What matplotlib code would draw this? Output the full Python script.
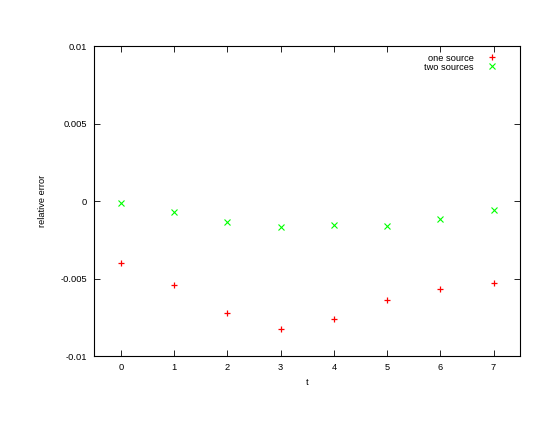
import numpy as np
import matplotlib
matplotlib.use("Agg")
import matplotlib.pyplot as plt

plt.rcParams['font.family'] = ['Liberation Sans', 'DejaVu Sans']

t = [0, 1, 2, 3, 4, 5, 6, 7]
one_source = [-0.00401, -0.00539, -0.00720, -0.00824, -0.00759, -0.00636, -0.00566, -0.00531]
two_sources = [-0.00013, -0.00073, -0.00136, -0.00164, -0.00155, -0.00162, -0.00116, -0.00058]

fig = plt.figure(figsize=(5.54, 4.28), dpi=100)
ax = fig.add_axes([0.170, 0.168, 0.769, 0.724])

ax.plot(t, one_source, linestyle='none', marker='+', color='#ff0000',
        markersize=5, markeredgewidth=0.9, label='one source')
ax.plot(t, two_sources, linestyle='none', marker='x', color='#00ff00',
        markersize=4, markeredgewidth=0.8, label='two sources')

ax.set_xlim(-0.5, 7.5)
ax.set_ylim(-0.01, 0.01)
ax.set_xticks(t)
ax.set_yticks([-0.01, -0.005, 0, 0.005, 0.01])
ax.set_yticklabels(['-0.01', '-0.005', '0', '0.005', '0.01'])
ax.tick_params(direction='in', top=True, right=True, length=4, width=0.6,
               labelsize=6.7, pad=5)
for s in ax.spines.values():
    s.set_linewidth(0.8)

ax.set_xlabel('t', fontsize=6.7, labelpad=4)
ax.set_ylabel('relative error', fontsize=6.7, labelpad=10)

ax.legend(loc='upper right', bbox_to_anchor=(0.967, 1.0), frameon=False,
          markerfirst=False, fontsize=6.7, handlelength=1.5,
          handletextpad=1.2, labelspacing=0.0, borderaxespad=0.4)

fig.savefig('out.png', dpi=100)
